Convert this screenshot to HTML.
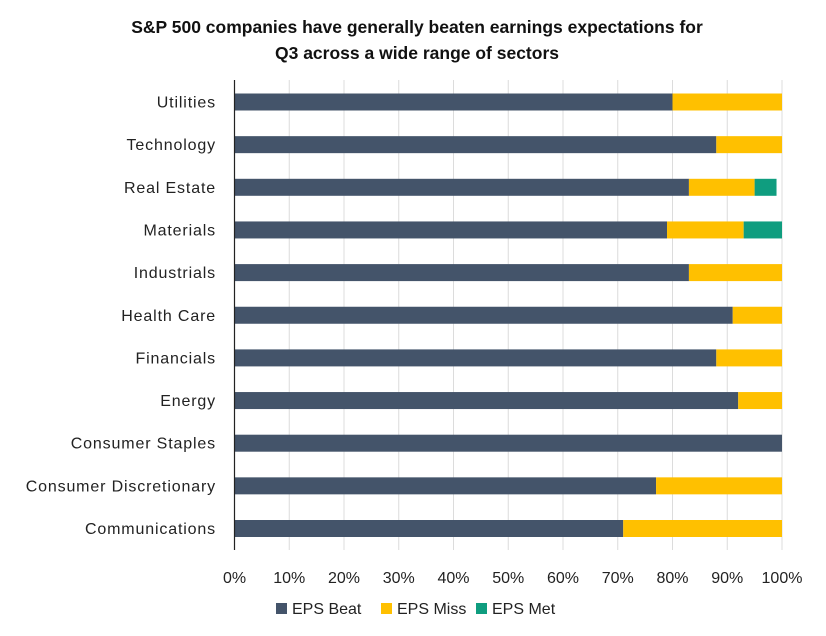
<!DOCTYPE html>
<html><head><meta charset="utf-8">
<style>
body{margin:0;background:#fff;}
svg text{font-family:"Liberation Sans",sans-serif;}
</style></head>
<body>
<svg id="chart" width="826" height="631">
<text x="417" y="33" text-anchor="middle" font-size="17.5" font-weight="bold" fill="#111">S&amp;P 500 companies have generally beaten earnings expectations for</text>
<text x="417" y="59" text-anchor="middle" font-size="17.5" font-weight="bold" fill="#111">Q3 across a wide range of sectors</text>
<g id="grid"></g><g id="bars"></g><g id="labels"></g>
<line x1="234.5" y1="80" x2="234.5" y2="550" stroke="#222" stroke-width="1.2"/>
<g id="legend"></g>
</svg>
<script>
const categories=["Utilities","Technology","Real Estate","Materials","Industrials","Health Care","Financials","Energy","Consumer Staples","Consumer Discretionary","Communications"];
const beat=[80,88,83,79,83,91,88,92,100,77,71];
const miss=[20,12,12,14,17,9,12,8,0,23,29];
const met=[0,0,4,7,0,0,0,0,0,0,0];
const ticks=[0,10,20,30,40,50,60,70,80,90,100];
const seriesNames=["EPS Beat","EPS Miss","EPS Met"];
const colors=["#44546a","#ffc000","#0f9d7f"];
const NS="http://www.w3.org/2000/svg";
const x=v=>234.5+v*5.475;
const y=i=>102+i*42.65;
function mk(t,a,p){const e=document.createElementNS(NS,t);for(const k in a)e.setAttribute(k,a[k]);p.appendChild(e);return e;}
const grid=document.getElementById('grid'),bars=document.getElementById('bars'),labels=document.getElementById('labels'),legend=document.getElementById('legend');
ticks.forEach(t=>{
 if(t>0){const l=mk('line',{x1:x(t),x2:x(t),y1:80,y2:550,stroke:'#dcdcdc','stroke-width':1},grid);
 
 }
 const tx=mk('text',{x:x(t),y:583,'text-anchor':'middle','font-size':16,fill:'#222'},labels);tx.textContent=t+'%';
 
 
});
categories.forEach((c,i)=>{
 const lb=mk('text',{x:216,y:y(i)+5.5,'text-anchor':'end','font-size':16,'letter-spacing':0.85,fill:'#222'},labels);lb.textContent=c;
 
 
 let s=0;[beat[i],miss[i],met[i]].forEach((v,k)=>{
  if(v>0){const r=mk('rect',{x:x(s),y:y(i)-8.5,width:x(s+v)-x(s),height:17,fill:colors[k]},bars);
  
  }
  s+=v;});
});
const lx=[276,381,476];
seriesNames.forEach((n,k)=>{
 const g=mk('g',{},legend);
 
 
 mk('rect',{x:lx[k],y:603,width:11,height:11,fill:colors[k]},g);
 const t=mk('text',{x:lx[k]+16,y:614,'font-size':16,fill:'#222'},g);t.textContent=n;
});
</script>
</body></html>
